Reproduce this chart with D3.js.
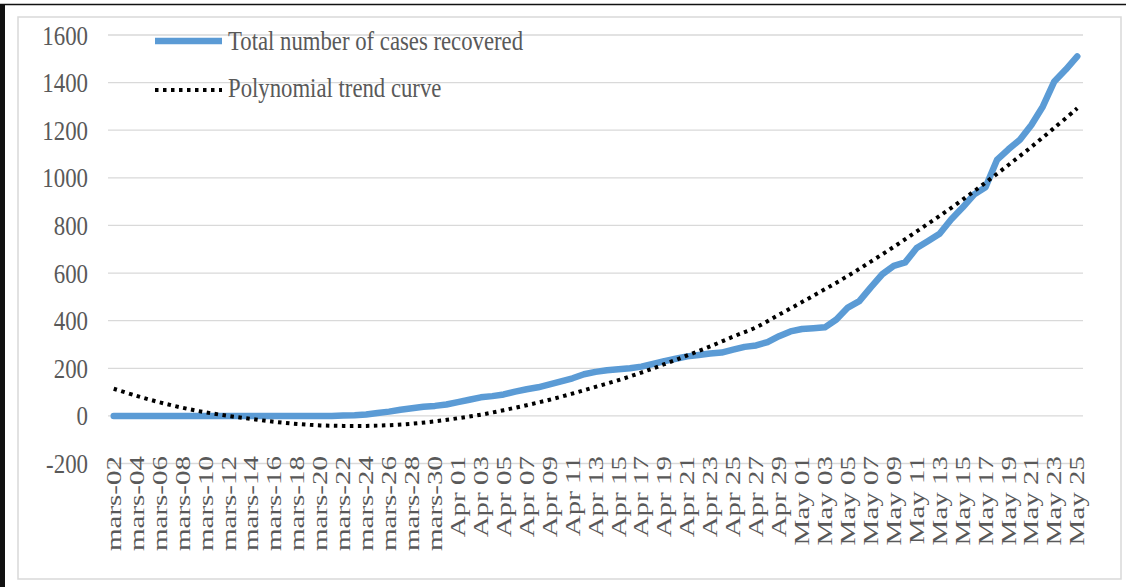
<!DOCTYPE html>
<html>
<head>
<meta charset="utf-8">
<script src="https://cdn.jsdelivr.net/npm/d3@7"></script>
<style>
  html, body { margin: 0; padding: 0; background: #ffffff; }
  svg { display: block; }
  text { font-family: "Liberation Serif", "Times New Roman", serif; fill: #595959; }
</style>
</head>
<body>
<svg id="chart" width="1126" height="587"></svg>
<script>
// ---- Data ----
const categories = [
  "mars-02","mars-03","mars-04","mars-05","mars-06","mars-07","mars-08","mars-09","mars-10","mars-11",
  "mars-12","mars-13","mars-14","mars-15","mars-16","mars-17","mars-18","mars-19","mars-20","mars-21",
  "mars-22","mars-23","mars-24","mars-25","mars-26","mars-27","mars-28","mars-29","mars-30","mars-31",
  "Apr 01","Apr 02","Apr 03","Apr 04","Apr 05","Apr 06","Apr 07","Apr 08","Apr 09","Apr 10",
  "Apr 11","Apr 12","Apr 13","Apr 14","Apr 15","Apr 16","Apr 17","Apr 18","Apr 19","Apr 20",
  "Apr 21","Apr 22","Apr 23","Apr 24","Apr 25","Apr 26","Apr 27","Apr 28","Apr 29","Apr 30",
  "May 01","May 02","May 03","May 04","May 05","May 06","May 07","May 08","May 09","May 10",
  "May 11","May 12","May 13","May 14","May 15","May 16","May 17","May 18","May 19","May 20",
  "May 21","May 22","May 23","May 24","May 25"
];

const recovered = [
  0,0,0,0,0,0,0,0,0,0,
  0,0,0,0,0,0,0,0,0,0,
  2,3,6,12,18,26,32,38,42,48,
  58,68,78,83,90,102,112,120,132,145,
  158,175,185,192,196,200,207,218,230,240,
  250,256,262,266,278,290,296,310,335,355,
  365,368,372,405,455,482,540,595,630,645,
  705,735,765,825,875,930,960,1075,1120,1160,
  1222,1300,1405,1455,1510
];

// tick labels (every second day)
const tickLabels = [
  "mars-02","mars-04","mars-06","mars-08","mars-10","mars-12","mars-14","mars-16","mars-18","mars-20",
  "mars-22","mars-24","mars-26","mars-28","mars-30",
  "Apr 01","Apr 03","Apr 05","Apr 07","Apr 09","Apr 11","Apr 13","Apr 15","Apr 17","Apr 19",
  "Apr 21","Apr 23","Apr 25","Apr 27","Apr 29",
  "May 01","May 03","May 05","May 07","May 09","May 11","May 13","May 15","May 17","May 19",
  "May 21","May 23","May 25"
];

// polynomial trend curve, read at each labelled date
const trendValues = [
  114,84,57,34,15,0,-13,-25,-34,-40,
  -42,-42,-39,-33,-23,-10,5,24,45,68,
  94,122,150,182,217,254,292,333,372,425,
  478,532,588,648,710,775,840,908,980,1054,
  1130,1210,1292
];

const yTicks = [-200,0,200,400,600,800,1000,1200,1400,1600];

const seriesNames = ["Total number of cases recovered", "Polynomial trend curve"];

// ---- Drawing ----
const svg = d3.select("#chart");
const W = 1126, H = 587;

svg.append("rect").attr("x",0).attr("y",0).attr("width",W).attr("height",H).attr("fill","#ffffff");

// outer black frame pieces
svg.append("line").attr("x1",0).attr("x2",W).attr("y1",4.5).attr("y2",4.5)
  .attr("stroke","#111").attr("stroke-width",1.5);
svg.append("line").attr("x1",2.5).attr("x2",2.5).attr("y1",4).attr("y2",H)
  .attr("stroke","#111").attr("stroke-width",5);

// inner chart area border
svg.append("rect").attr("x",18).attr("y",17).attr("width",1103).attr("height",562)
  .attr("fill","none").attr("stroke","#d9d9d9").attr("stroke-width",1.5);

const x = d3.scalePoint().domain(categories).range([108,1083]).padding(0.5);
const y = d3.scaleLinear().domain([-200,1600]).range([463.5,35]);

// gridlines
svg.append("g").selectAll("line").data(yTicks).join("line")
  .attr("x1",108).attr("x2",1083)
  .attr("y1",d=>y(d)).attr("y2",d=>y(d))
  .attr("stroke","#d9d9d9").attr("stroke-width",1.3);

// y-axis labels
svg.append("g").selectAll("text").data(yTicks).join("text")
  .attr("transform",d=>`translate(88,${y(d)}) scale(0.88,1.05)`)
  .attr("text-anchor","end").attr("dy","0.35em")
  .style("font-size","26px")
  .text(d=>d);

// x-axis labels
svg.append("g").selectAll("text").data(tickLabels).join("text")
  .attr("transform",d=>`translate(${x(d)},456) rotate(-90) scale(1,0.74)`)
  .attr("text-anchor","end").attr("dy","0.33em")
  .style("font-size","29px")
  .text(d=>d);

// data line
const line = d3.line().x((d,i)=>x(categories[i])).y(d=>y(d));
svg.append("path").datum(recovered)
  .attr("d",line)
  .attr("fill","none").attr("stroke","#5b9bd5").attr("stroke-width",6.5)
  .attr("stroke-linejoin","round").attr("stroke-linecap","round");

// trend line
const trendLine = d3.line().curve(d3.curveCatmullRom)
  .x((d,i)=>x(tickLabels[i])).y(d=>y(d));
svg.append("path").datum(trendValues)
  .attr("d",trendLine)
  .attr("fill","none").attr("stroke","#000").attr("stroke-width",4)
  .attr("stroke-dasharray","3.5,4.5");

// legend
const lg = svg.append("g");
lg.append("line").attr("x1",155).attr("x2",222).attr("y1",41).attr("y2",41)
  .attr("stroke","#5b9bd5").attr("stroke-width",6.5);
lg.append("line").attr("x1",155).attr("x2",222).attr("y1",90).attr("y2",90)
  .attr("stroke","#000").attr("stroke-width",4).attr("stroke-dasharray","3.5,4.5");
lg.selectAll("text").data(seriesNames).join("text")
  .attr("transform",(d,i)=>`translate(228,${i===0?50:97}) scale(0.875,1.05)`)
  .style("font-size","26px")
  .text(d=>d);
</script>
</body>
</html>
